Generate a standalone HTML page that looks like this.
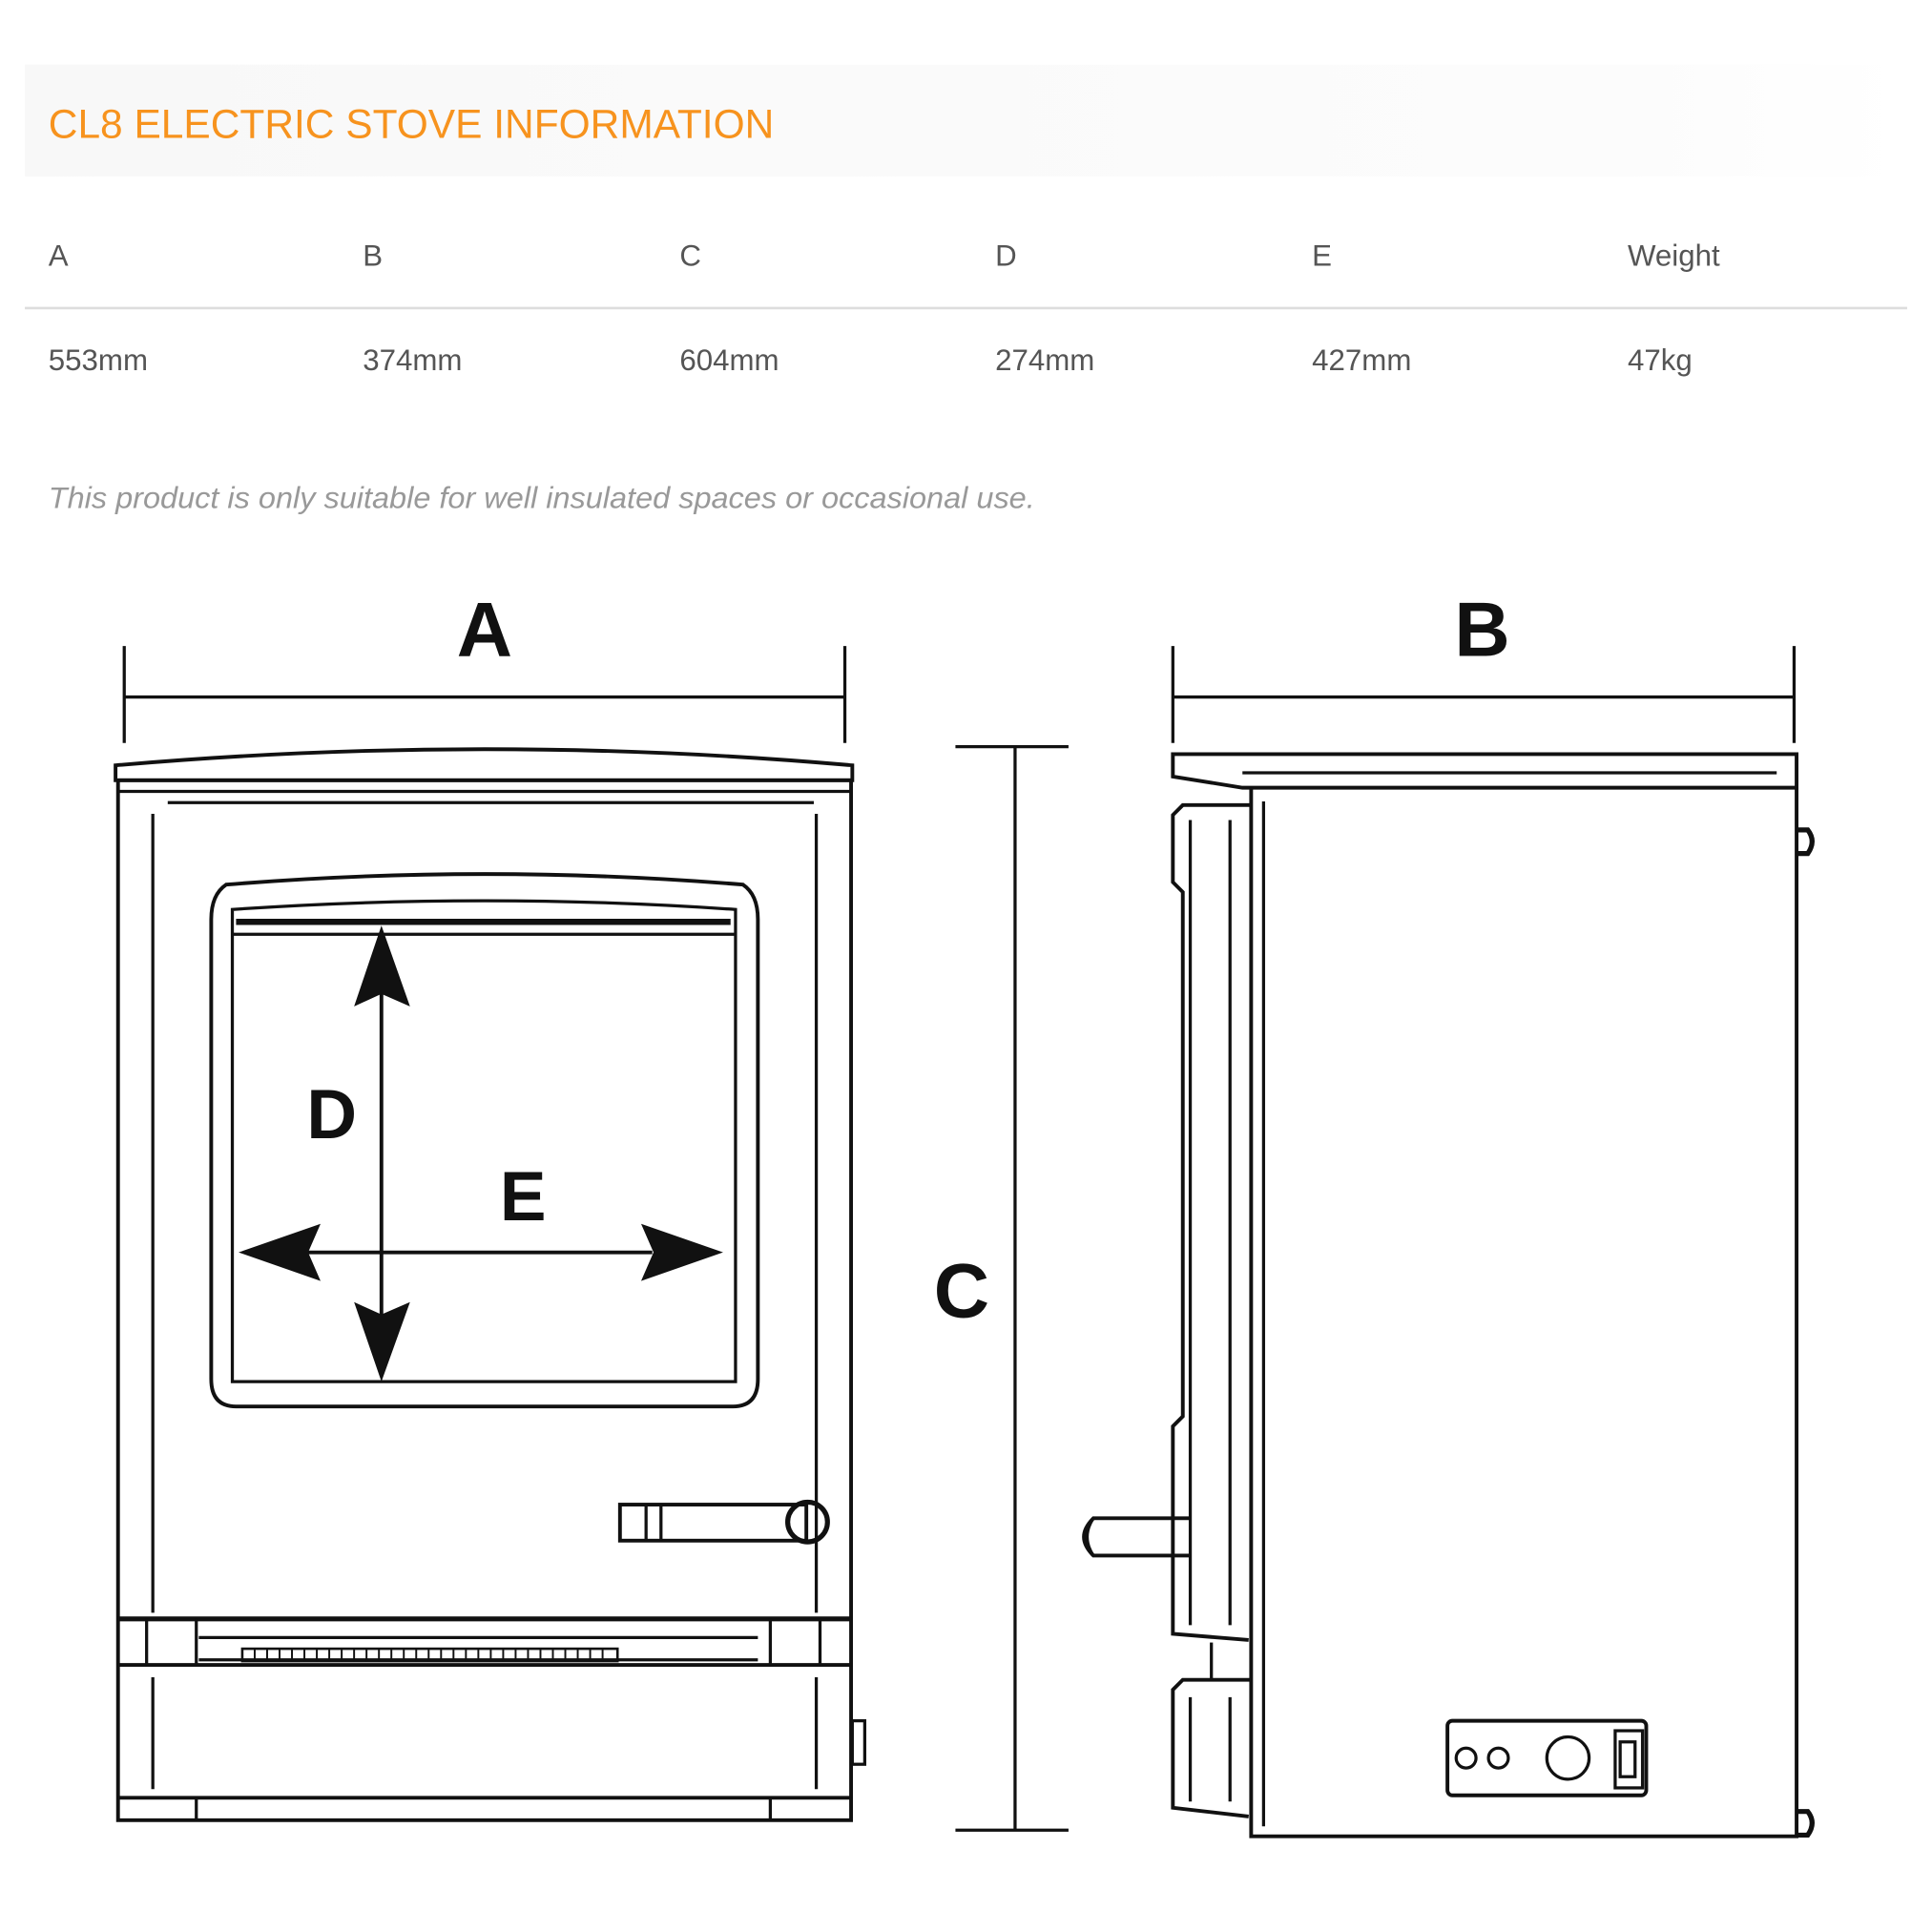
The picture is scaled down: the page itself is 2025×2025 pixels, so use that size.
<!DOCTYPE html>
<html><head><meta charset="utf-8"><style>
html,body{margin:0;padding:0;background:#fff;}
svg{display:block;}
</style></head><body>
<svg width="2025" height="2025" viewBox="0 0 1555 1555" xmlns="http://www.w3.org/2000/svg">
<defs>
<linearGradient id="hg" x1="0" x2="1"><stop offset="0" stop-color="#f8f8f8"/><stop offset="0.85" stop-color="#fcfcfc"/><stop offset="1" stop-color="#fff"/></linearGradient>
</defs>
<rect x="20" y="52" width="1515" height="90" fill="url(#hg)"/>
<g font-family="Liberation Sans, sans-serif">
<text x="39" y="111" font-size="33" fill="#f7931e" textLength="584" lengthAdjust="spacingAndGlyphs">CL8 ELECTRIC STOVE INFORMATION</text>
<g font-size="24" fill="#555">
<text x="39" y="214">A</text><text x="292" y="214">B</text><text x="547" y="214">C</text><text x="801" y="214">D</text><text x="1056" y="214">E</text><text x="1310" y="214">Weight</text>
<text x="39" y="298">553mm</text><text x="292" y="298">374mm</text><text x="547" y="298">604mm</text><text x="801" y="298">274mm</text><text x="1056" y="298">427mm</text><text x="1310" y="298">47kg</text>
</g>
<line x1="20" y1="248" x2="1535" y2="248" stroke="#ddd" stroke-width="2"/>
<text x="39" y="409" font-size="24" font-style="italic" fill="#999" textLength="794" lengthAdjust="spacingAndGlyphs">This product is only suitable for well insulated spaces or occasional use.</text>
<g font-size="62" fill="#111" text-anchor="middle" font-weight="bold">
<text x="390" y="528">A</text><text x="1193" y="528">B</text><text x="774" y="1060">C</text>
<text x="267" y="916" font-size="56">D</text><text x="421" y="982" font-size="56">E</text>
</g>
</g>
<g stroke="#111" fill="none" stroke-width="2.5">
<path d="M100 520V598M680 520V598M100 561H680"/>
<path d="M944 520V598M1444 520V598M944 561H1444"/>
<path d="M769 601H860M769 1473H860M817 601V1473"/>
<path d="M93 616Q390 590 686 616V628H93Z" stroke-width="3"/>
<path d="M95 628H685" stroke-width="3"/>
<path d="M95 637H685M135 646H655"/>
<path d="M95 628V1465H685V628" stroke-width="3"/>
<path d="M123 655V1298M657 655V1298"/>
<path d="M182 712Q390 695 598 712Q610 720 610 740V1110Q610 1132 590 1132H190Q170 1132 170 1110V740Q170 720 182 712Z" stroke-width="3"/>
<path d="M187 732Q390 718 592 732V1112H187Z" stroke-width="2.5"/>
<path d="M190 742H588" stroke-width="5"/>
<path d="M187 752H592"/>
<path d="M307 790V1060M240 1008H525" stroke-width="3"/>
<polygon points="307,745 285,810 307,800 330,810" fill="#111" stroke="none"/>
<polygon points="307,1112 285,1048 307,1058 330,1048" fill="#111" stroke="none"/>
<polygon points="192,1008 258,985 248,1008 258,1031" fill="#111" stroke="none"/>
<polygon points="582,1008 516,985 526,1008 516,1031" fill="#111" stroke="none"/>
<rect x="499" y="1211" width="150" height="29" stroke-width="3"/>
<path d="M520 1211V1240M532 1211V1240"/>
<circle cx="650" cy="1225" r="16" stroke-width="4"/>
<path d="M95 1303H685" stroke-width="4"/>
<path d="M95 1340H685" stroke-width="3"/>
<path d="M160 1318H610M160 1336H610"/>
<path d="M118 1303V1340M158 1303V1340M620 1303V1340M660 1303V1340"/>
<rect x="195" y="1327" width="302" height="10" stroke-width="2"/>
<path d="M205 1327V1337M215 1327V1337M225 1327V1337M235 1327V1337M245 1327V1337M255 1327V1337M265 1327V1337M275 1327V1337M285 1327V1337M295 1327V1337M305 1327V1337M315 1327V1337M325 1327V1337M335 1327V1337M345 1327V1337M355 1327V1337M365 1327V1337M375 1327V1337M385 1327V1337M395 1327V1337M405 1327V1337M415 1327V1337M425 1327V1337M435 1327V1337M445 1327V1337M455 1327V1337M465 1327V1337M475 1327V1337M485 1327V1337" stroke-width="1.5"/>
<path d="M123 1350V1440M657 1350V1440"/>
<path d="M95 1447H685" stroke-width="3"/>
<path d="M158 1447V1465M620 1447V1465"/>
<rect x="686" y="1385" width="10" height="35"/>
<path d="M944 607H1446V634H1000L944 625Z" stroke-width="3"/>
<path d="M1000 622H1430"/>
<path d="M1007 634V1478H1446V634" stroke-width="3"/>
<path d="M1017 645V1470"/>
<path d="M1007 648H952L944 656V710L952 718V1140L944 1148V1315L1005 1320" stroke-width="3"/>
<path d="M958 660V1308M990 660V1308"/>
<path d="M1007 1352H952L944 1360V1455L1005 1462" stroke-width="3"/>
<path d="M958 1366V1450M990 1366V1450"/>
<path d="M975 1322V1352"/>
<path d="M1446 668H1455Q1462 677 1455 687H1446" stroke-width="4"/>
<path d="M1446 1458H1455Q1462 1467 1455 1477H1446" stroke-width="4"/>
<path d="M958 1222H880Q865 1237 880 1252H958" stroke-width="3"/>
<path d="M880 1222Q870 1237 880 1252"/>
<rect x="1165" y="1385" width="160" height="60" rx="4" stroke-width="3"/>
<circle cx="1180" cy="1415" r="8"/><circle cx="1206" cy="1415" r="8"/><circle cx="1262" cy="1415" r="17"/>
<rect x="1300" y="1393" width="22" height="46"/><rect x="1304" y="1402" width="12" height="28"/>
</g>
</svg>
</body></html>
